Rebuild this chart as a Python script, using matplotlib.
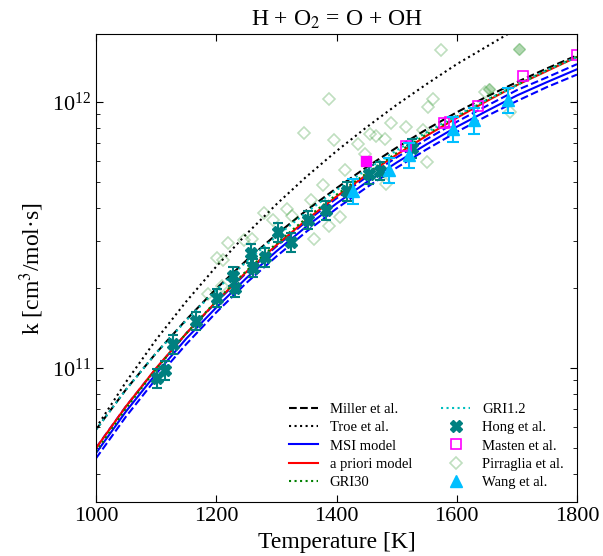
import numpy as np
import matplotlib.pyplot as plt
from matplotlib.ticker import NullFormatter

plt.rcParams['font.family'] = ['Liberation Serif', 'DejaVu Serif']
plt.rcParams['mathtext.fontset'] = 'stix'

# Rate constant curves, every 50 K
T_model = [1000, 1050, 1100, 1150, 1200, 1250, 1300, 1350, 1400,
           1450, 1500, 1550, 1600, 1650, 1700, 1750, 1800]
k_miller = [5.87e10, 8.32e10, 1.14e11, 1.52e11, 1.99e11, 2.54e11, 3.18e11, 3.92e11, 4.75e11,
            5.70e11, 6.75e11, 7.91e11, 9.16e11, 1.05e12, 1.19e12, 1.34e12, 1.50e12]
k_troe = [5.96e10, 8.88e10, 1.28e11, 1.78e11, 2.41e11, 3.19e11, 4.13e11, 5.25e11, 6.55e11,
          8.05e11, 9.77e11, 1.17e12, 1.39e12, 1.62e12, 1.89e12, 2.17e12, 2.48e12]
k_msi = [4.79e10, 6.88e10, 9.53e10, 1.29e11, 1.69e11, 2.18e11, 2.75e11, 3.41e11, 4.16e11,
         5.00e11, 5.93e11, 6.95e11, 8.08e11, 9.27e11, 1.06e12, 1.19e12, 1.33e12]
k_msi_hi = [5.01e10, 7.19e10, 9.96e10, 1.35e11, 1.77e11, 2.28e11, 2.87e11, 3.56e11, 4.35e11,
            5.23e11, 6.20e11, 7.26e11, 8.44e11, 9.69e11, 1.11e12, 1.24e12, 1.39e12]
k_msi_lo = [4.58e10, 6.58e10, 9.12e10, 1.23e11, 1.62e11, 2.09e11, 2.63e11, 3.26e11, 3.98e11,
            4.78e11, 5.67e11, 6.65e11, 7.73e11, 8.87e11, 1.01e12, 1.14e12, 1.27e12]
k_apriori = [5.00e10, 7.19e10, 1.00e11, 1.35e11, 1.78e11, 2.30e11, 2.90e11, 3.61e11, 4.42e11,
             5.33e11, 6.35e11, 7.48e11, 8.73e11, 1.01e12, 1.16e12, 1.31e12, 1.48e12]
k_gri30 = [4.85e10, 7.06e10, 9.91e10, 1.35e11, 1.79e11, 2.32e11, 2.94e11, 3.67e11, 4.49e11,
           5.41e11, 6.44e11, 7.57e11, 8.81e11, 1.02e12, 1.16e12, 1.32e12, 1.48e12]
k_gri12 = [5.87e10, 8.30e10, 1.14e11, 1.51e11, 1.97e11, 2.51e11, 3.13e11, 3.85e11, 4.67e11,
           5.57e11, 6.59e11, 7.71e11, 8.91e11, 1.02e12, 1.16e12, 1.32e12, 1.48e12]

# Experimental data
hong_T = [1101, 1115, 1128, 1166, 1201, 1231, 1228, 1261, 1257, 1281, 1303, 1324,
          1353, 1383, 1417, 1454, 1472, 1525]
hong_k = [9.16e10, 9.83e10, 1.23e11, 1.51e11, 1.84e11, 2.01e11, 2.22e11, 2.39e11, 2.71e11,
          2.62e11, 3.25e11, 2.98e11, 3.62e11, 3.93e11, 4.63e11, 5.36e11, 5.53e11, 6.71e11]
hong_rel_err = 0.08

masten_T = [1516, 1578, 1589, 1635, 1710, 1800]
masten_k = [6.83e11, 8.32e11, 8.45e11, 9.70e11, 1.25e12, 1.50e12]
masten_T_filled = [1449]
masten_k_filled = [6.03e11]

pirr_T = [1187, 1209, 1201, 1212, 1220, 1246, 1259, 1280, 1294, 1317, 1326, 1346,
          1357, 1362, 1378, 1387, 1388, 1396, 1406, 1414, 1436, 1447, 1455, 1466,
          1481, 1482, 1491, 1516, 1544, 1550, 1552, 1561, 1574, 1647, 1689]
pirr_k = [1.90e11, 2.03e11, 2.59e11, 2.55e11, 2.96e11, 3.03e11, 3.07e11, 3.82e11, 3.62e11,
          3.98e11, 3.73e11, 7.67e11, 4.28e11, 3.05e11, 4.88e11, 1.03e12, 3.42e11, 7.20e11,
          3.71e11, 5.55e11, 6.99e11, 6.41e11, 7.61e11, 7.48e11, 7.24e11, 4.92e11, 8.38e11,
          8.05e11, 7.88e11, 5.95e11, 9.58e11, 1.03e12, 1.57e12, 1.09e12, 9.17e11]
pirr_T_filled = [1654, 1704]
pirr_k_filled = [1.12e12, 1.58e12]

wang_T = [1428, 1488, 1520, 1594, 1628, 1685]
wang_k = [4.65e11, 5.58e11, 6.34e11, 7.95e11, 8.56e11, 1.02e12]
wang_rel_err = 0.11

fig = plt.figure(figsize=(6.03, 5.56), dpi=100)
ax = fig.add_axes([0.1592, 0.0966, 0.7977, 0.8417])

# model curves
l_miller, = ax.plot(T_model, k_miller, 'k--', lw=1.5, label='Miller et al.')
l_troe, = ax.plot(T_model, k_troe, 'k:', lw=1.5, label='Troe et al.')
l_msi, = ax.plot(T_model, k_msi, color='b', lw=1.5, label='MSI model')
ax.plot(T_model, k_msi_hi, color='b', ls='--', lw=1.5)
ax.plot(T_model, k_msi_lo, color='b', ls='--', lw=1.5)
l_apr, = ax.plot(T_model, k_apriori, color='r', lw=1.5, label='a priori model')
l_gri30, = ax.plot(T_model, k_gri30, color='g', ls=':', lw=1.5, label='GRI30')
l_gri12, = ax.plot(T_model, k_gri12, color='c', ls=':', lw=1.5, label='GRI1.2')

# Pirraglia et al.
l_pirr, = ax.plot(pirr_T, pirr_k, 'D', ms=6.5, mfc='none', mec='green', mew=1.2,
                  alpha=0.25, label='Pirraglia et al.')
ax.plot(pirr_T_filled, pirr_k_filled, 'D', ms=6.5, mfc='green', mec='green', alpha=0.3)

# Hong et al.
hong_k = np.array(hong_k)
ax.errorbar(hong_T, hong_k, yerr=hong_k * hong_rel_err, fmt='none', ecolor='teal',
            elinewidth=1.5, capsize=3.5, capthick=1.5)
l_hong, = ax.plot(hong_T, hong_k, 'X', color='teal', ms=8, label='Hong et al.')

# Masten et al.
l_masten, = ax.plot(masten_T, masten_k, 's', ms=7.5, mfc='none', mec='magenta', mew=1.2,
                    label='Masten et al.')
ax.plot(masten_T_filled, masten_k_filled, 's', ms=7.5, color='magenta')

# Wang et al.
wang_k = np.array(wang_k)
ax.errorbar(wang_T, wang_k, yerr=wang_k * wang_rel_err, fmt='none', ecolor='deepskyblue',
            elinewidth=1.5, capsize=4, capthick=1.5)
l_wang, = ax.plot(wang_T, wang_k, '^', color='deepskyblue', ms=8, label='Wang et al.')

ax.set_yscale('log')
ax.set_xlim(1000, 1800)
ax.set_ylim(3.13e10, 1.80e12)
ax.set_xticks([1000, 1200, 1400, 1600, 1800])
ax.yaxis.set_minor_formatter(NullFormatter())
ax.tick_params(which='both', direction='in', top=True, right=True, labelsize=16)
ax.tick_params(which='major', length=5)
ax.tick_params(which='minor', length=3)

ax.set_xlabel('Temperature [K]', fontsize=17)
ax.set_ylabel('k [cm$^3$/mol·s]', fontsize=17)
ax.set_title('H + O$_2$ = O + OH', fontsize=17)

handles = [l_miller, l_troe, l_msi, l_apr, l_gri30,
           l_gri12, l_hong, l_masten, l_pirr, l_wang]
ax.legend(handles=handles, loc='lower right', ncol=2, frameon=False,
          fontsize=10.5, labelspacing=0.35)

fig.savefig('out.png', dpi=100)
